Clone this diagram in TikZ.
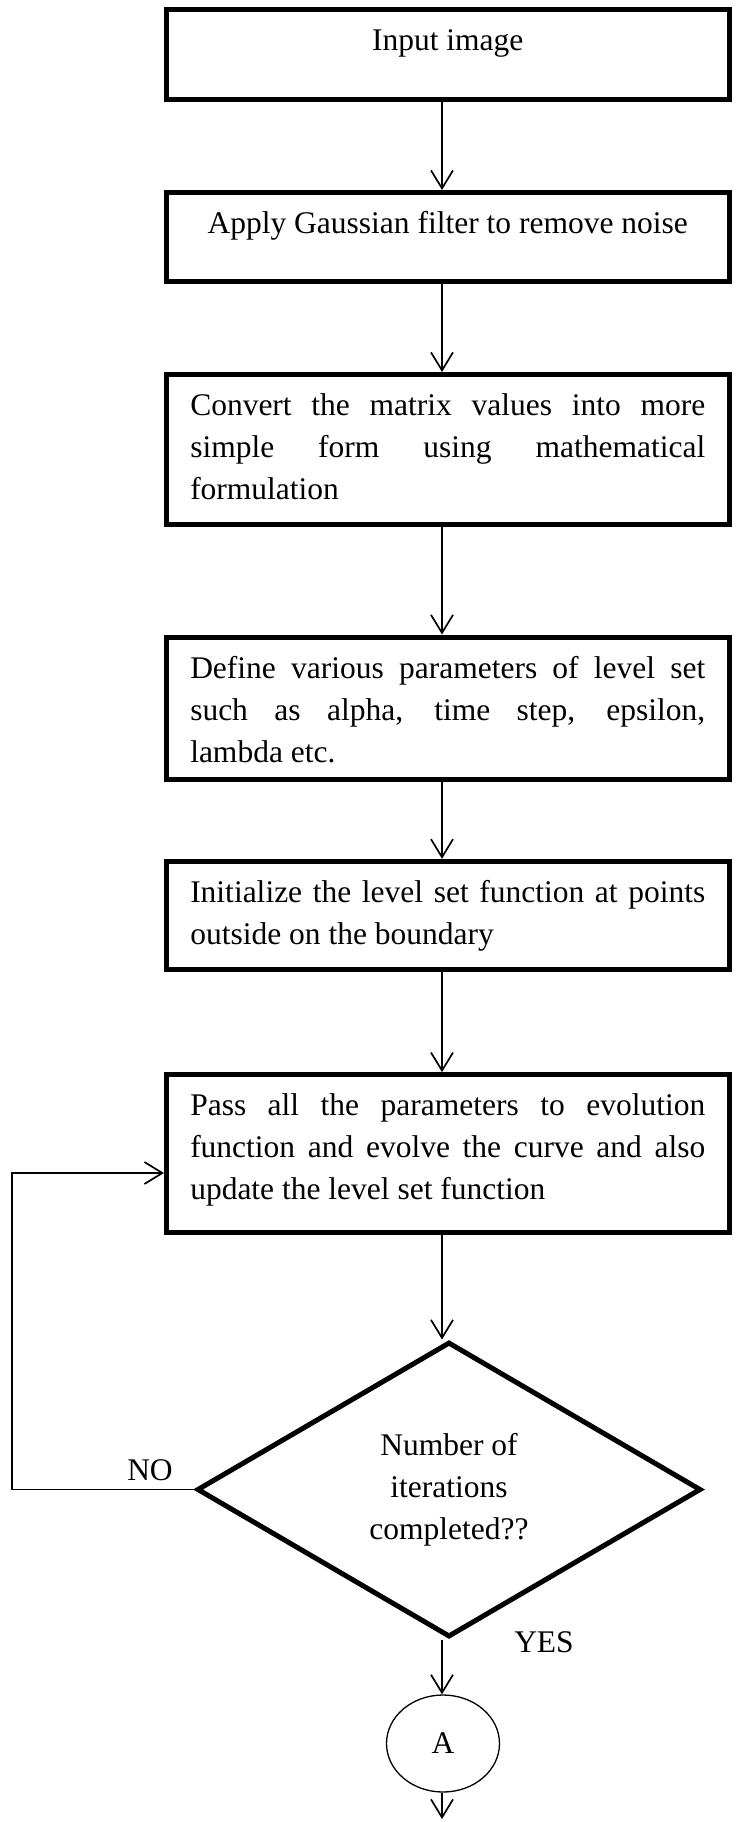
\documentclass[tikz,border=0pt]{standalone}
\usepackage{fontspec}
\setmainfont{Liberation Serif}
\usetikzlibrary{arrows.meta,shapes.geometric}
\hbadness=10000
\hfuzz=20pt
% process box text: fixed-height frame, first baseline 41pt below the top edge
\newcommand\boxtext[2]{\parbox[c][#1][t]{515pt}{\rule{0pt}{41pt}#2}}
\newcommand\boxcentre[2]{\parbox[c][#1][t]{515pt}{\centering\rule{0pt}{41pt}#2}}
\begin{document}
\begin{tikzpicture}[x=1pt,y=-1pt,
  every node/.style={font=\fontsize{31.5}{42}\selectfont},
  stepbox/.style={draw, line width=5pt, inner xsep=23.75pt, inner ysep=0pt, anchor=north},
  decision/.style={draw, diamond, line width=5pt, minimum width=504pt,
    minimum height=295pt, inner sep=0pt, align=center},
  connector/.style={draw, ellipse, line width=1.3pt, minimum width=113pt,
    minimum height=97pt, inner sep=0pt},
  flow/.style={line width=1.7pt, -{Straight Barb[length=18pt,width=22pt]}},
  tag/.style={anchor=base}
]
\useasboundingbox (0,0) rectangle (736,1822);

% process steps
\node[stepbox] (b1) at (447.75,7.5)   {\boxcentre{89.5pt}{Input image}};
\node[stepbox] (b2) at (447.75,190)   {\boxcentre{89pt}{Apply Gaussian filter to remove noise}};
\node[stepbox] (b3) at (447.75,372)   {\boxtext{149.5pt}{Convert the matrix values into more\linebreak
  simple form using mathematical\linebreak formulation}};
\node[stepbox] (b4) at (447.75,634.5) {\boxtext{142pt}{Define various parameters of level set\linebreak
  such as alpha, time step, epsilon,\linebreak lambda etc.}};
\node[stepbox] (b5) at (447.75,858.8) {\boxtext{108pt}{Initialize the level set function at points\linebreak
  outside on the boundary}};
\node[stepbox] (b6) at (447.75,1072.2) {\boxtext{158pt}{Pass all the parameters to evolution\linebreak
  function and evolve the curve and also\linebreak update the level set function}};

% decision and off-page connector
\node[decision] (dec) at (449,1489.5) {Number of\\iterations\\completed??};
\node[connector] (A) at (443,1743.5) {A};

\node[tag] (no)  at (150,1480) {NO};
\node[tag] (yes) at (544,1652) {YES};

% connectors
\coordinate (col) at (442,0);
\coordinate (loop) at (12,1173);
\coordinate (out) at (442,1819);

\draw[flow] (col |- b1.south) -- (col |- b2.north);
\draw[flow] (col |- b2.south) -- (col |- b3.north);
\draw[flow] (col |- b3.south) -- (col |- b4.north);
\draw[flow] (col |- b4.south) -- (col |- b5.north);
\draw[flow] (col |- b5.south) -- (col |- b6.north);
\draw[flow] (col |- b6.south) -- (col |- dec.north);
\draw[flow] (col |- dec.south) -- (col |- A.north);
\draw[flow] (col |- A.south) -- (out);
\draw[flow] (dec.west) -| (loop) -- (loop -| b6.west);
\end{tikzpicture}
\end{document}
